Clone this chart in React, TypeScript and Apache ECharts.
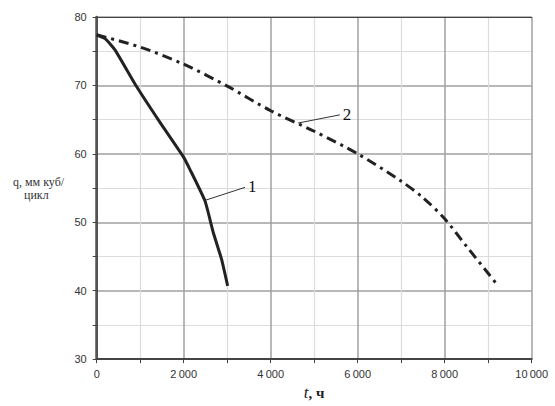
import React, { useEffect, useRef } from "react";
import * as echarts from "echarts";

const curve1T = [0, 200, 420, 920, 1455, 1990, 2145, 2490, 2680, 2870, 3010];
const curve1Q = [77.4, 76.8, 75.2, 69.8, 64.6, 59.6, 57.7, 53.1, 48.5, 44.6, 40.7];

const curve2T = [0, 1000, 2000, 3000, 4000, 5000, 6000, 7000, 7500, 8000, 8500, 9230];
const curve2Q = [77.4, 75.6, 73.1, 69.9, 66.3, 63.3, 60.0, 56.0, 53.6, 50.5, 46.5, 40.7];

const label1Leader = [[2490, 53.2], [3410, 55.1]];
const label2Leader = [[4630, 64.5], [5590, 65.7]];
const seriesLabels = ["1", "2"];

const fmtThousands = (v: number) =>
  v >= 1000 ? String(v).replace(/\B(?=(\d{3})+(?!\d))/g, "\u2009") : String(v);

export default function App() {
  const ref = useRef<HTMLDivElement>(null);
  useEffect(() => {
    if (!ref.current) return;
    const chart = echarts.init(ref.current, null, { renderer: "svg" });
    const leader = (pts: number[][], text: string) => ({
      silent: true,
      symbol: "none",
      lineStyle: { color: "#333", width: 1, type: "solid" },
      label: {
        show: true,
        position: "end",
        formatter: text,
        fontFamily: "Liberation Serif",
        fontSize: 17,
        color: "#111",
        distance: 3,
      },
      emphasis: { disabled: true },
      data: [[{ coord: pts[0] }, { coord: pts[1] }]],
    });
    chart.setOption({
      animation: false,
      backgroundColor: "#fff",
      grid: { left: 96.7, right: 23.3, top: 17, bottom: 46 },
      xAxis: [
        {
          type: "value",
          min: 0,
          max: 10000,
          interval: 2000,
          axisLine: { show: true, lineStyle: { color: "#444", width: 2 } },
          axisTick: { show: true, length: 4, lineStyle: { color: "#444" } },
          minorTick: { show: true, splitNumber: 2, length: 4, lineStyle: { color: "#444" } },
          splitLine: { show: true, lineStyle: { color: "#a0a0a0", width: 1.5 } },
          minorSplitLine: { show: true, lineStyle: { color: "#dcdcdc", width: 1.2 } },
          axisLabel: {
            formatter: fmtThousands,
            fontFamily: "Liberation Sans",
            fontSize: 11,
            color: "#333",
            margin: 9,
          },
          name: "{i|t}{b|, ч}",
          nameLocation: "middle",
          nameGap: 24,
          nameTextStyle: {
            rich: {
              i: { fontFamily: "Liberation Serif", fontStyle: "italic", fontSize: 17, color: "#222" },
              b: { fontFamily: "Liberation Serif", fontWeight: "bold", fontSize: 15, color: "#222" },
            },
          },
        },
        {
          type: "value",
          position: "top",
          min: 0,
          max: 10000,
          axisLine: { show: true, lineStyle: { color: "#444", width: 1.2 } },
          axisTick: { show: false },
          axisLabel: { show: false },
          splitLine: { show: false },
        },
      ],
      yAxis: [
        {
          type: "value",
          min: 30,
          max: 80,
          interval: 10,
          axisLine: { show: true, lineStyle: { color: "#444", width: 2 } },
          axisTick: { show: true, length: 4, lineStyle: { color: "#444" } },
          minorTick: { show: true, splitNumber: 2, length: 4, lineStyle: { color: "#444" } },
          splitLine: { show: true, lineStyle: { color: "#a0a0a0", width: 1.5 } },
          minorSplitLine: { show: true, lineStyle: { color: "#dcdcdc", width: 1.2 } },
          axisLabel: {
            fontFamily: "Liberation Sans",
            fontSize: 11,
            color: "#333",
            margin: 10,
          },
        },
        {
          type: "value",
          position: "right",
          min: 30,
          max: 80,
          axisLine: { show: true, lineStyle: { color: "#555", width: 2.5 } },
          axisTick: { show: false },
          axisLabel: { show: false },
          splitLine: { show: false },
        },
      ],
      graphic: [
        {
          type: "text",
          left: 13,
          top: 176,
          style: { text: "q, мм куб/", font: "12px 'Liberation Serif'", fill: "#333" },
        },
        {
          type: "text",
          left: 24,
          top: 189,
          style: { text: "цикл", font: "12px 'Liberation Serif'", fill: "#333" },
        },
      ],
      series: [
        {
          type: "line",
          name: seriesLabels[0],
          data: curve1T.map((t, i) => [t, curve1Q[i]]),
          smooth: 0.15,
          showSymbol: false,
          lineStyle: { color: "#222", width: 3 },
          markLine: leader(label1Leader, seriesLabels[0]),
        },
        {
          type: "line",
          name: seriesLabels[1],
          data: curve2T.map((t, i) => [t, curve2Q[i]]),
          smooth: 0.3,
          showSymbol: false,
          lineStyle: { color: "#222", width: 3, type: [10, 5, 3, 5] },
          markLine: leader(label2Leader, seriesLabels[1]),
        },
      ],
    });
    return () => chart.dispose();
  }, []);
  return <div ref={ref} style={{ width: 555, height: 406, position: "absolute", left: 0, top: 0 }} />;
}
